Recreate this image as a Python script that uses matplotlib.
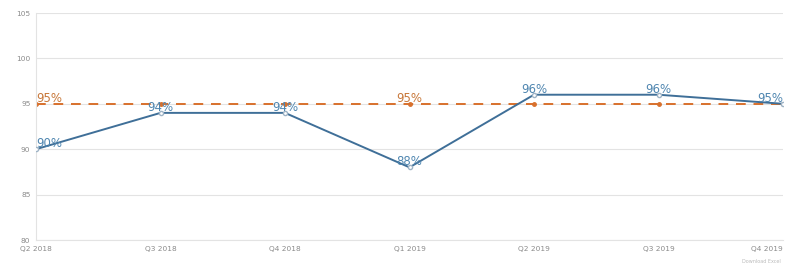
import matplotlib
matplotlib.use("Agg")
import matplotlib.pyplot as plt

quarters = ["Q2 2018", "Q3 2018", "Q4 2018", "Q1 2019", "Q2 2019", "Q3 2019", "Q4 2019"]
actual = [90, 94, 94, 88, 96, 96, 95]
target = [95, 95, 95, 95, 95, 95, 95]
target_labelled = [0, 3]  # only these target points carry a label
yticks = [80, 85, 90, 95, 100, 105]

blue = "#3f6f98"
orange = "#d8702c"

fig = plt.figure(figsize=(7.85, 2.67), dpi=100)
ax = fig.add_axes([36/785, 1-240/267, 747/785, 227/267])

x = list(range(len(quarters)))
ax.plot(x, target, color=orange, lw=1.4, ls=(0, (5, 4)), marker="o", ms=2.5, zorder=2)
ax.plot(x, actual, color=blue, lw=1.4, marker="o", ms=3, mfc="white", mec="#9fb4c6", zorder=3)

def label_ha(i):
    # end labels are pushed inside the plot
    if i == 0:
        return "left"
    if i == len(x) - 1:
        return "right"
    return "center"

for i, v in enumerate(actual):
    ax.text(i, v + 0.6, f"{v}%", color="#4f86b0", fontsize=8.5, ha=label_ha(i), va="center", zorder=4)
for i in target_labelled:
    ax.text(i, target[i] + 0.6, f"{target[i]}%", color="#c8783a", fontsize=8.5, ha=label_ha(i), va="center", zorder=4)

ax.set_xlim(0, 6)
ax.set_ylim(80, 105)
ax.set_yticks(yticks)
ax.set_xticks(x)
ax.set_xticklabels(quarters)
ax.tick_params(axis="both", length=0, labelsize=5.3, labelcolor="#8a8a8a", pad=4)
ax.get_xticklabels()[-1].set_ha("right")
ax.grid(axis="y", color="#e3e3e3", lw=0.8)
ax.set_axisbelow(True)
for s in ["top", "right"]:
    ax.spines[s].set_visible(False)
ax.spines["left"].set_color("#e3e3e3")
ax.spines["bottom"].set_color("#e3e3e3")

fig.text(0.995, 0.01, "Download Excel", fontsize=3.5, color="#bbbbbb", ha="right", va="bottom")

fig.savefig("out.png", dpi=100, facecolor="white")
